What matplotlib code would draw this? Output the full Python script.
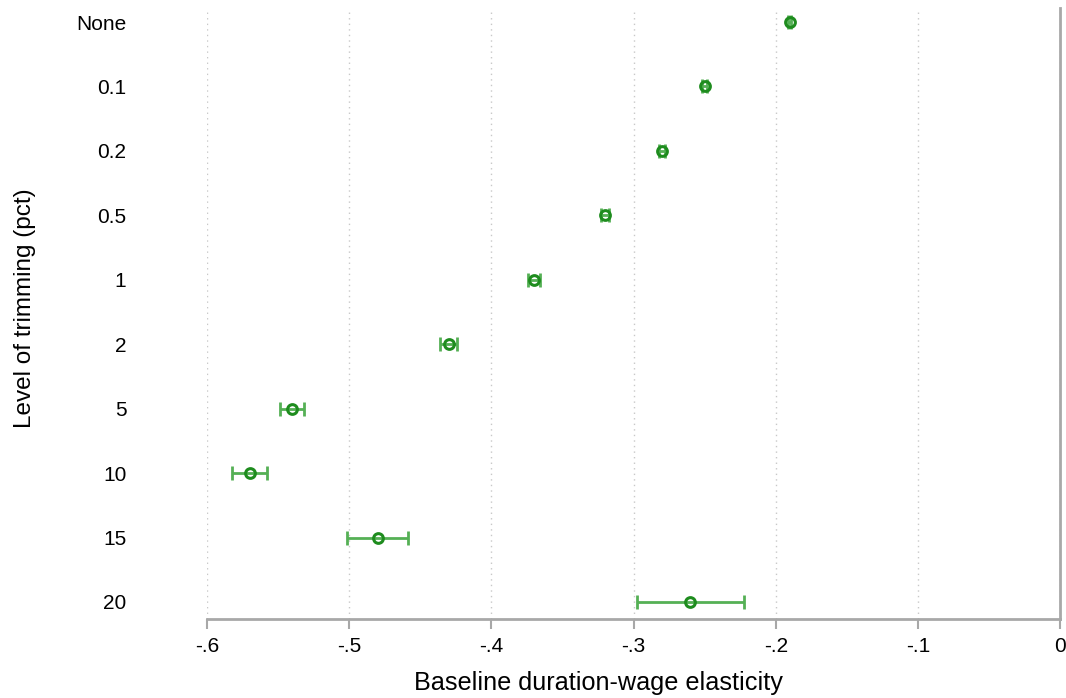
import matplotlib.pyplot as plt
import numpy as np

plt.rcParams['font.family'] = ['Liberation Sans', 'DejaVu Sans']

# data
trim_levels = ["None", "0.1", "0.2", "0.5", "1", "2", "5", "10", "15", "20"]
elasticity = [-0.19, -0.25, -0.28, -0.32, -0.37, -0.43, -0.54, -0.57, -0.48, -0.26]
ci_half = [0.001, 0.002, 0.002, 0.003, 0.004, 0.006, 0.0085, 0.0125, 0.0215, 0.0375]
xticks = [-0.6, -0.5, -0.4, -0.3, -0.2, -0.1, 0.0]
xtick_labels = ["-.6", "-.5", "-.4", "-.3", "-.2", "-.1", "0"]

fig = plt.figure(figsize=(10.66, 6.98), dpi=100)
ax = fig.add_axes([0.1942, 0.1132, 0.8002, 0.8753])

ypos = np.arange(len(trim_levels))
ax.errorbar(elasticity, ypos, xerr=ci_half, fmt='none', ecolor='#55b055',
            elinewidth=2, capsize=5, capthick=2, zorder=2)
ax.plot(elasticity, ypos, 'o', ms=7, mfc='none', mec='#1e8c1e', mew=2.2,
        linestyle='none', zorder=3)

ax.set_xlim(-0.6, 0)
ax.set_ylim(9.264, -0.217)
ax.set_xticks(xticks)
ax.set_xticklabels(xtick_labels, fontsize=15)
ax.set_yticks(ypos)
ax.set_yticklabels(trim_levels, fontsize=15)
ax.tick_params(axis='y', length=0, pad=58)
ax.tick_params(axis='x', length=7, width=1.5, color='#a8a8a8', pad=6)

ax.grid(axis='x', linestyle=(0, (1, 3)), color='#c8c8c8', linewidth=1)
ax.set_axisbelow(True)

for s in ['left', 'top']:
    ax.spines[s].set_visible(False)
for s in ['bottom', 'right']:
    ax.spines[s].set_color('#a8a8a8')
    ax.spines[s].set_linewidth(2)

ax.set_xlabel("Baseline duration-wage elasticity", fontsize=18.2)
ax.xaxis.set_label_coords(0.459, -0.085)
ax.set_ylabel("Level of trimming (pct)", fontsize=17.5)
ax.yaxis.set_label_coords(-0.2, 0.508)

fig.savefig("out.png", dpi=100)
